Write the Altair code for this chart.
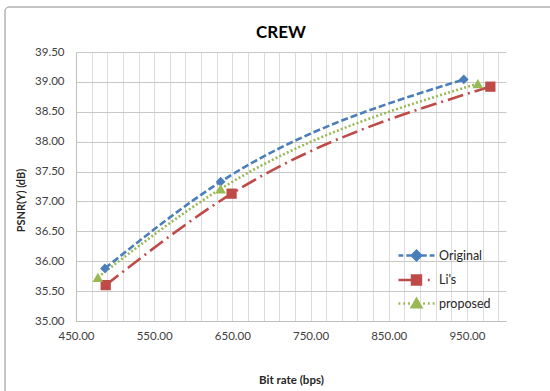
import altair as alt
import pandas as pd

series = ["Original", "Li's", "proposed"]
orig_x = [487, 635, 946]
orig_y = [35.88, 37.33, 39.04]
lis_x = [488, 649, 980]
lis_y = [35.60, 37.13, 38.92]
prop_x = [478, 635, 964]
prop_y = [35.73, 37.21, 38.97]

x_ticks = list(range(450, 1000, 20))
y_ticks = [35.0, 35.5, 36.0, 36.5, 37.0, 37.5, 38.0, 38.5, 39.0, 39.5]
title_text = ["CREW"]

colors = ["#4A7EBB", "#BE4B48", "#98B954"]
dashes = [[7, 3], [16, 5, 2, 5], [2, 2.2]]
shapes = ["diamond", "square", "triangle-up"]
legend_paths = [
    "M-3,0L-2.2,0M-1.7,0L-0.9,0M-0.8,0L0,-0.8L0.8,0L0,0.8Z M0.9,0L1.7,0M2.2,0L3,0",
    "M-3,0L-0.7,0M-0.75,-0.75L0.75,-0.75L0.75,0.75L-0.75,0.75Z M1.9,0L2.2,0",
    "M-3,0L-2.7,0M-2.2,0L-1.9,0M-1.4,0L-1.1,0M-0.8,0.65L0,-0.75L0.8,0.65Z M1.1,0L1.4,0M1.9,0L2.2,0M2.7,0L3,0",
]

rows = []
for name, xs, ys in [(series[0], orig_x, orig_y), (series[1], lis_x, lis_y), (series[2], prop_x, prop_y)]:
    for i, (a, b) in enumerate(zip(xs, ys)):
        rows.append({"series": name, "rate": a, "psnr": b, "order": i})
df = pd.DataFrame(rows)

FONT = "Lato"

x_enc = alt.X(
    "rate:Q",
    scale=alt.Scale(domain=[450, 1000], nice=False, zero=False),
    axis=alt.Axis(
        title="Bit rate (bps)",
        values=x_ticks,
        tickCount=100,
        labelExpr="(datum.value - 450) % 100 == 0 ? format(datum.value, '.2f') : ''",
        labelOverlap=False,
        labelFlush=False,
        labelFont=FONT, labelFontSize=11.5, labelColor="#404040",
        labelPadding=9,
        titleFont=FONT, titleFontSize=11.5, titleFontWeight="bold", titleColor="#262626",
        titlePadding=33,
        tickSize=0, ticks=False,
        gridColor="#dcdcdc", gridWidth=1,
        domainColor="#bfbfbf",
    ),
)
y_enc = alt.Y(
    "psnr:Q",
    scale=alt.Scale(domain=[35, 39.5], nice=False, zero=False),
    axis=alt.Axis(
        title="PSNR(Y) (dB)",
        values=y_ticks,
        tickCount=100,
        format=".2f",
        labelOverlap=False,
        labelFlush=False,
        labelFont=FONT, labelFontSize=11.5, labelColor="#404040",
        labelPadding=12,
        titleFont=FONT, titleFontSize=11, titleFontWeight="bold", titleColor="#262626",
        titleX=-55, titleY=148, titleAlign="center", titleBaseline="middle",
        tickSize=0, ticks=False,
        gridColor="#c8c8c8", gridWidth=1,
        domainColor="#bfbfbf",
    ),
)

base = alt.Chart(df)

lines = base.mark_line(interpolate="monotone", strokeWidth=2.6).encode(
    x=x_enc,
    y=y_enc,
    order="order:O",
    color=alt.Color("series:N", scale=alt.Scale(domain=series, range=colors), legend=None),
    strokeDash=alt.StrokeDash("series:N", scale=alt.Scale(domain=series, range=dashes), legend=None),
)

points = base.mark_point(filled=True, opacity=1).encode(
    x="rate:Q",
    y="psnr:Q",
    color=alt.Color("series:N", scale=alt.Scale(domain=series, range=colors), legend=None),
    shape=alt.Shape("series:N", scale=alt.Scale(domain=series, range=shapes), legend=None),
    size=alt.Size("series:N", scale=alt.Scale(domain=series, range=[95, 115, 120]), legend=None),
)

leg = alt.Legend(
    title=None, orient="none", legendX=333, legendY=196,
    labelFont=FONT, labelFontSize=12.5, labelColor="#262626",
    symbolSize=144, symbolStrokeWidth=2.4, labelOffset=15, rowPadding=4.5,
)

legend_layer = base.mark_point(filled=False, opacity=1, strokeWidth=2.4).encode(
    x="rate:Q",
    y="psnr:Q",
    stroke=alt.Stroke("series:N", scale=alt.Scale(domain=series, range=colors), legend=leg),
    fill=alt.Fill("series:N", scale=alt.Scale(domain=series, range=colors), legend=leg),
    shape=alt.Shape("series:N", scale=alt.Scale(domain=series, range=legend_paths), legend=leg),
).transform_filter("false")

border = alt.Chart(pd.DataFrame({"a": [0]})).mark_rect(
    fill=None, stroke="#8c8c8c", strokeWidth=1, cornerRadius=4
).encode(
    x=alt.value(-71), x2=alt.value(700), y=alt.value(-45), y2=alt.value(600)
)

title = alt.Chart(pd.DataFrame({"t": title_text})).mark_text(
    font=FONT, fontSize=17, fontWeight="bold", color="#000000", align="center", baseline="middle"
).encode(
    text="t:N", x=alt.value(205), y=alt.value(-19)
)

chart = alt.layer(border, title, lines, points, legend_layer).resolve_scale(
    shape="independent", stroke="independent", fill="independent"
).properties(
    width=430,
    height=269,
    autosize=alt.AutoSizeParams(type="none"),
    padding={"left": 76, "top": 52, "right": 44, "bottom": 70},
    background="white",
).configure_view(stroke=None)

chart.save("out.html", embed_options={"renderer": "svg", "actions": False})
